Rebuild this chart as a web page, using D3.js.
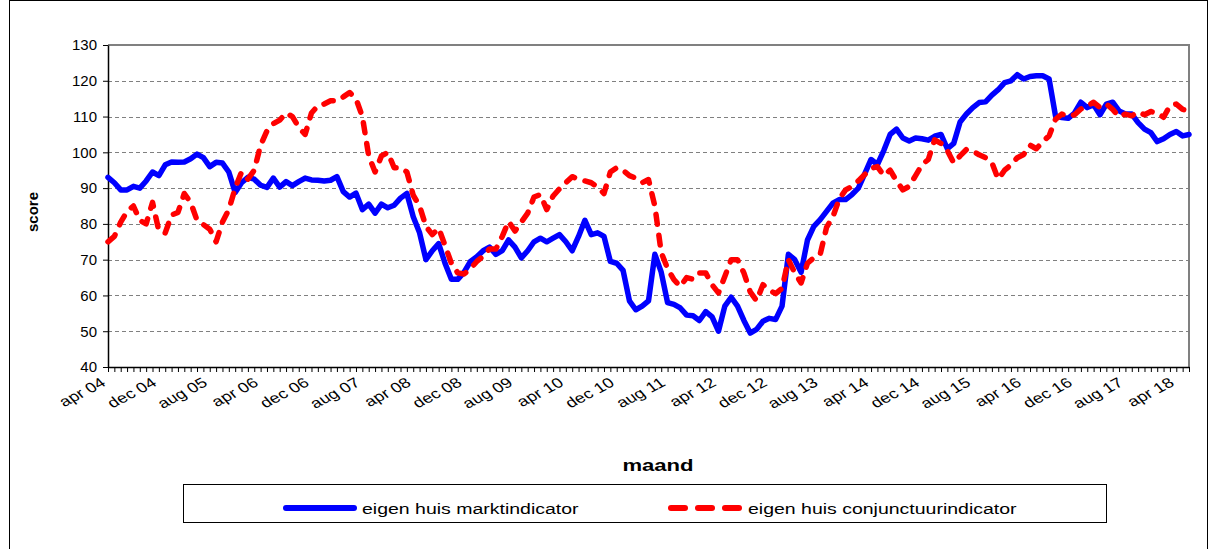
<!DOCTYPE html>
<html>
<head>
<meta charset="utf-8">
<script src="https://cdn.jsdelivr.net/npm/d3@7"></script>
<style>
  html, body { margin: 0; padding: 0; background: #fff; }
  svg { display: block; font-family: "Liberation Sans", Arial, sans-serif; }
</style>
</head>
<body>
<svg id="chart" width="1210" height="549"></svg>
<script>
// ---- data ----
const startYear = 2004, startMonth = 3; // april 2004 (0-based month)
const monthCount = 171;                 // apr 04 .. jun 18
const monthNames = ["jan","feb","mrt","apr","mei","jun","jul","aug","sep","okt","nov","dec"];

const tickLabels = ["apr 04","dec 04","aug 05","apr 06","dec 06","aug 07","apr 08","dec 08","aug 09","apr 10","dec 10",
                    "aug 11","apr 12","dec 12","aug 13","apr 14","dec 14","aug 15","apr 16","dec 16","aug 17","apr 18"];
const yTicks = [40,50,60,70,80,90,100,110,120,130];

const marktindicator = [
 93,91.5,89.5,89.5,90.5,90,92,94.5,93.5,96.5,97.3,97.2,97.3,98.2,99.5,98.5,96,97.2,97,94.5,
 88.8,91.5,93,92.5,90.8,90.2,92.8,90.3,91.8,90.7,91.8,92.8,92.3,92.2,92,92.2,93.2,89,87.5,88.6,
 84,85.5,83,85.5,84.5,85.2,87.2,88.5,82,77.5,70,72.5,74.5,69,64.5,64.5,66.5,69.5,70.8,72.5,
 73.5,71.5,72.5,75.5,73.5,70.5,72.5,75,76,75,76,77,75,72.5,76.5,81,77,77.5,76.5,69.5,
 69,67,58.5,56,57,58.5,71.5,66.5,58,57.5,56.5,54.5,54.3,53,55.5,54,50,57,59.5,57,
 53,49.5,50.5,52.8,53.6,53.3,57,71.5,70,66.5,75.5,79.3,81.2,83.5,85.8,86.8,86.8,88.2,90,94,
 98,96.6,100.5,105,106.5,104,103.2,104,103.8,103.4,104.5,105,101,102.5,108.5,110.7,112.5,113.9,114.1,116,
 117.5,119.5,120,121.7,120.5,121.2,121.4,121.4,120.5,110.2,109.7,109.5,111,114,112.5,113.3,110.5,113.5,114,111.6,
 110.7,110.7,108.3,106.5,105.5,103,103.8,105,105.8,104.6,105
];
const conjunctuurindicator = [
 75,76.5,80.5,83.5,85,81,80,86,78,77.5,82.5,83.2,88.5,86,81,79.8,78.5,75,80.5,84,
 90,94.5,92.5,95,102,106,108,109,111,110,107,105,111,113,113.5,114.4,114.4,115.5,116.7,115,
 110,99,94.5,99,100,95.7,95.7,94.5,88,85,79.3,77,78.8,74,69,66.3,66,67.5,69.5,71,
 73,73,76.5,80.7,78,80.5,83,87.5,88.2,84,87.8,89.8,91.5,93.2,92.5,92,91.5,90.3,88.5,94.5,
 95.7,95,93.5,92.8,91.5,92.4,85,72,67.5,64.4,62.5,65,64.5,66.3,66.3,63,60.7,65.3,70,70,
 66.3,61,58.5,63,61.5,60.5,62,70,66.3,63.5,69,70.5,71.5,79,82,87,89.5,90.5,92,93.8,
 95.5,96,93.5,95,92,89.5,90.5,93.5,96.5,98,103.5,102.5,100.5,97,99,100.8,100.4,99.3,98.5,97.1,
 92.5,95,96.5,98.5,99.4,102,101,103,104.6,109.2,110.7,110,110.5,112.1,113,114,112.5,113.5,112,110,
 110.7,110.2,111.3,110.5,111.4,111,109.8,113,113.5,112,111.6
];
const seriesNames = ["eigen huis marktindicator", "eigen huis conjunctuurindicator"];

// month category labels
const months = d3.range(monthCount).map(i => {
  const m = (startMonth + i) % 12;
  const yr = startYear + Math.floor((startMonth + i) / 12);
  return monthNames[m] + " " + String(yr % 100).padStart(2, "0");
});

// ---- layout ----
const svg = d3.select("#chart");
const plot = { left: 108, right: 1189, top: 45, bottom: 367 };
const stretch = 1.3; // horizontal stretch of the original picture's text

const x = d3.scalePoint().domain(months).range([plot.left, plot.right]).padding(0);
const y = d3.scaleLinear().domain([40, 130]).range([plot.bottom, plot.top]);

// outer frame
svg.append("rect").attr("x", 9.5).attr("y", 0.5).attr("width", 1198).attr("height", 560)
  .attr("fill", "none").attr("stroke", "#000").attr("stroke-width", 1);

// gridlines
svg.append("g").selectAll("line").data(yTicks.filter(v => v > 40 && v < 130)).join("line")
  .attr("x1", plot.left).attr("x2", plot.right)
  .attr("y1", d => Math.round(y(d)) + 0.5).attr("y2", d => Math.round(y(d)) + 0.5)
  .attr("stroke", "#808080").attr("stroke-width", 1).attr("stroke-dasharray", "4,3");

// plot border (top/right grey)
svg.append("path")
  .attr("d", `M${plot.left},${plot.top}H${plot.right}V${plot.bottom}`)
  .attr("fill", "none").attr("stroke", "#808080").attr("stroke-width", 2);

// y axis
const yAxis = svg.append("g").attr("transform", `translate(${plot.left},0)`)
  .call(d3.axisLeft(y).tickValues(yTicks).tickSize(5).tickPadding(6).tickSizeOuter(0));
yAxis.select(".domain").attr("stroke", "#000").attr("stroke-width", 1.5);
yAxis.selectAll(".tick line").attr("stroke", "#000");
yAxis.selectAll("text").attr("font-size", 15).attr("fill", "#000")
  .attr("font-family", "'Liberation Sans', Arial, sans-serif");

// x axis with monthly ticks
const xAxis = svg.append("g").attr("transform", `translate(0,${plot.bottom})`)
  .call(d3.axisBottom(x).tickValues(months).tickSize(5).tickFormat("").tickSizeOuter(0));
xAxis.select(".domain").attr("stroke", "#000").attr("stroke-width", 1.5);
xAxis.selectAll(".tick line").attr("stroke", "#000");

// rotated x tick labels
svg.append("g").selectAll("text").data(tickLabels).join("text")
  .attr("transform", d => `translate(${x(d) - 1},${plot.bottom + 18}) scale(${stretch},1) rotate(-34)`)
  .attr("text-anchor", "end")
  .attr("font-size", 14)
  .attr("fill", "#000")
  .text(d => d);

// axis titles
svg.append("text").attr("transform", `translate(38,${(plot.top + plot.bottom) / 2 + 6}) rotate(-90)`)
  .attr("text-anchor", "middle").attr("font-weight", "bold").attr("font-size", 15).text("score");
svg.append("text").attr("transform", `translate(658,471) scale(1.38,1)`)
  .attr("text-anchor", "middle").attr("font-weight", "bold").attr("font-size", 16).text("maand");

// lines
const line = d3.line().x((d, i) => x(months[i])).y(d => y(d));
svg.append("path").datum(marktindicator)
  .attr("d", line).attr("fill", "none").attr("stroke", "#0000FF")
  .attr("stroke-width", 5.5).attr("stroke-linejoin", "round").attr("stroke-linecap", "round");
svg.append("path").datum(conjunctuurindicator)
  .attr("d", line).attr("fill", "none").attr("stroke", "#FF0000")
  .attr("stroke-width", 5.5).attr("stroke-linejoin", "round").attr("stroke-linecap", "round")
  .attr("stroke-dasharray", "10,11");

// legend
const lg = svg.append("g");
lg.append("rect").attr("x", 183.5).attr("y", 484.5).attr("width", 923).attr("height", 38)
  .attr("fill", "#fff").attr("stroke", "#000").attr("stroke-width", 1);
lg.append("line").attr("x1", 286).attr("x2", 354).attr("y1", 508).attr("y2", 508)
  .attr("stroke", "#0000FF").attr("stroke-width", 6).attr("stroke-linecap", "round");
lg.append("text").attr("transform", `translate(362,514) scale(${stretch},1)`)
  .attr("font-size", 15).text(seriesNames[0]);
lg.append("line").attr("x1", 671).attr("x2", 740).attr("y1", 508).attr("y2", 508)
  .attr("stroke", "#FF0000").attr("stroke-width", 6).attr("stroke-linecap", "round")
  .attr("stroke-dasharray", "14,13");
lg.append("text").attr("transform", `translate(748,514) scale(${stretch},1)`)
  .attr("font-size", 15).text(seriesNames[1]);
</script>
</body>
</html>
